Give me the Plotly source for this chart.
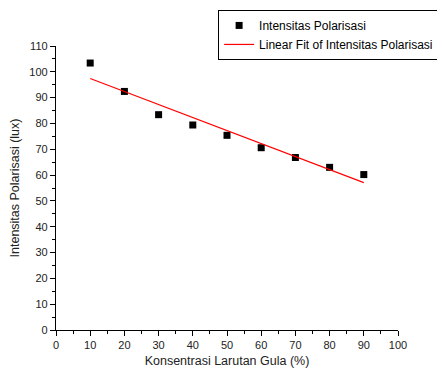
import plotly.graph_objects as go

konsentrasi = [10, 20, 30, 40, 50, 60, 70, 80, 90]
intensitas = [103.4, 92.4, 83.4, 79.4, 75.4, 70.6, 66.8, 63.0, 60.2]
fit_x = [10, 90]
fit_y = [97.4, 57.1]

FONT = "Arial, Liberation Sans, sans-serif"

fig = go.Figure()
fig.add_trace(go.Scatter(
    x=konsentrasi, y=intensitas, mode="markers",
    name="Intensitas Polarisasi",
    marker=dict(symbol="square", size=7, color="black"),
))
fig.add_trace(go.Scatter(
    x=fit_x, y=fit_y, mode="lines",
    name="Linear Fit of Intensitas Polarisasi",
    line=dict(color="#ff0000", width=1.2),
))

axis_common = dict(
    showline=True, linecolor="black", linewidth=1.3,
    ticks="outside", ticklen=5, tickwidth=1, tickcolor="black",
    showgrid=False, zeroline=False, mirror=False, automargin=False,
    tickfont=dict(family=FONT, size=11, color="#222"),
    minor=dict(ticks="outside", ticklen=3, tickwidth=1, tickcolor="black", dtick=5, showgrid=False),
)

fig.update_layout(
    width=437, height=360,
    margin=dict(l=48, r=47, t=38, b=38, autoexpand=False),
    paper_bgcolor="white", plot_bgcolor="white",
    showlegend=True,
    legend=dict(
        x=0.474, y=1.127, xanchor="left", yanchor="top",
        bordercolor="black", borderwidth=1,
        font=dict(family=FONT, size=12, color="black"),
        bgcolor="white", tracegroupgap=0,
    ),
    xaxis=dict(range=[0, 100], dtick=10, tick0=0,
               title=dict(text="Konsentrasi Larutan Gula (%)", standoff=8,
                          font=dict(family=FONT, size=12.5, color="#222")),
               **axis_common),
    yaxis=dict(range=[0, 110], dtick=10, tick0=0,
               title=dict(text="Intensitas Polarisasi (lux)", standoff=12,
                          font=dict(family=FONT, size=12.5, color="#222")),
               **axis_common),
)

fig.write_html("out.html")
